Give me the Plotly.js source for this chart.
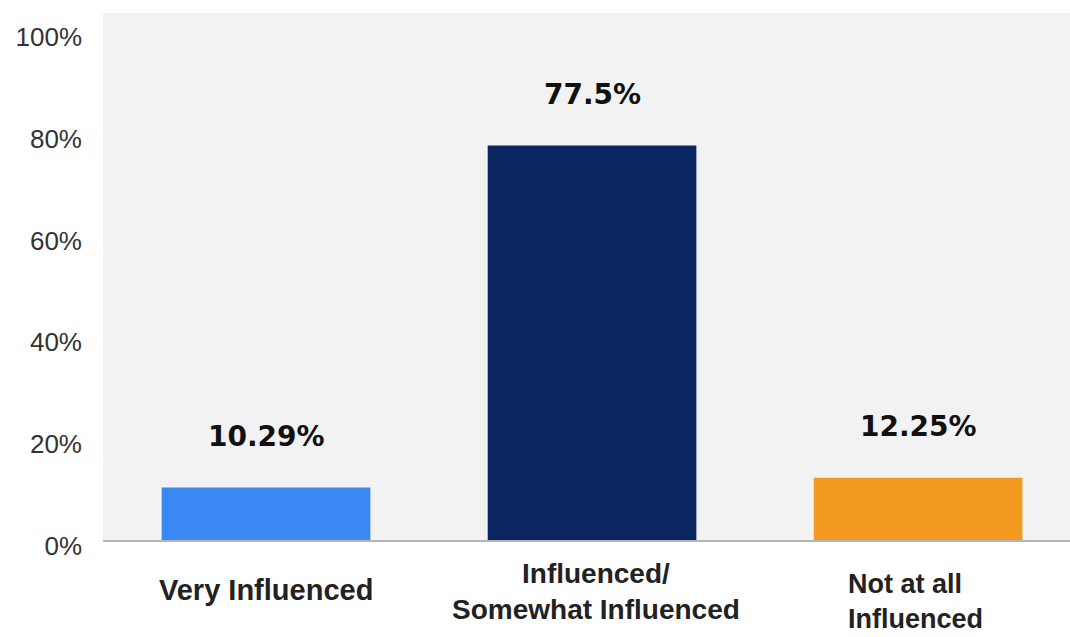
<!DOCTYPE html>
<html>
<head>
<meta charset="utf-8">
<script src="https://cdn.plot.ly/plotly-3.0.1.min.js"></script>
<style>html,body{margin:0;padding:0;background:#fff;}#chart{width:1070px;height:637px;}</style>
</head>
<body>
<div id="chart"></div>
<script>
const categories = ["Very Influenced", "Influenced/ Somewhat Influenced", "Not at all Influenced"];
const categoryLabels = ["Very Influenced", "Influenced/<br>Somewhat Influenced", "Not at all<br>Influenced"];
const values = [10.29, 77.5, 12.25];
const valueLabels = ["10.29%", "77.5%", "12.25%"];
const barColors = ["#3b87f4", "#0b2561", "#f49a20"];
const tickValues = [0, 20, 40, 60, 80, 100];
const tickLabels = ["0%", "20%", "40%", "60%", "80%", "100%"];

const trace = {
  type: "bar",
  x: categories,
  y: values,
  width: 0.64,
  marker: {color: barColors},
  hoverinfo: "none"
};

const annotations = [];
categories.forEach((c, i) => {
  annotations.push({
    x: c, y: values[i], xref: "x", yref: "y",
    text: valueLabels[i], showarrow: false,
    yanchor: "middle", yshift: 51,
    font: {family: "DejaVu Sans", size: 28, color: "#111", weight: "bold"}
  });
});
// per-category label styling: anchor, alignment, horizontal shift, vertical offset of the block centre, font size
const labelCfg = [
  {xanchor: "center", align: "center", xshift: 0, yshift: -50, size: 29},
  {xanchor: "center", align: "center", xshift: 4, yshift: -51, size: 28},
  {xanchor: "left", align: "left", xshift: -71, yshift: -61, size: 27}
];
categories.forEach((c, i) => {
  const cfg = labelCfg[i];
  annotations.push({
    x: c, y: 0, xref: "x", yref: "y",
    text: categoryLabels[i], showarrow: false,
    xanchor: cfg.xanchor, align: cfg.align, xshift: cfg.xshift,
    yanchor: "middle", yshift: cfg.yshift, borderpad: 0,
    font: {family: "Liberation Sans", size: cfg.size, color: "#222", weight: "bold"}
  });
});

const layout = {
  width: 1070, height: 637,
  margin: {l: 103, r: 0, t: 13, b: 97},
  paper_bgcolor: "#ffffff",
  plot_bgcolor: "#f2f2f2",
  showlegend: false,
  xaxis: {
    type: "category",
    range: [-0.5, 2.466],
    showticklabels: false,
    showgrid: false,
    zeroline: false,
    showline: true, linecolor: "#b5b5b5", linewidth: 2,
    ticks: ""
  },
  yaxis: {
    range: [0, 103.5],
    tickvals: tickValues,
    ticktext: tickLabels,
    showgrid: false,
    zeroline: false,
    showline: false,
    ticks: "",
    ticklabelstandoff: 20,
    ticklabelshift: 6,
    tickfont: {family: "Liberation Sans", size: 26, color: "#333"}
  },
  annotations: annotations
};

Plotly.newPlot("chart", [trace], layout, {displayModeBar: false, staticPlot: true});
</script>
</body>
</html>
